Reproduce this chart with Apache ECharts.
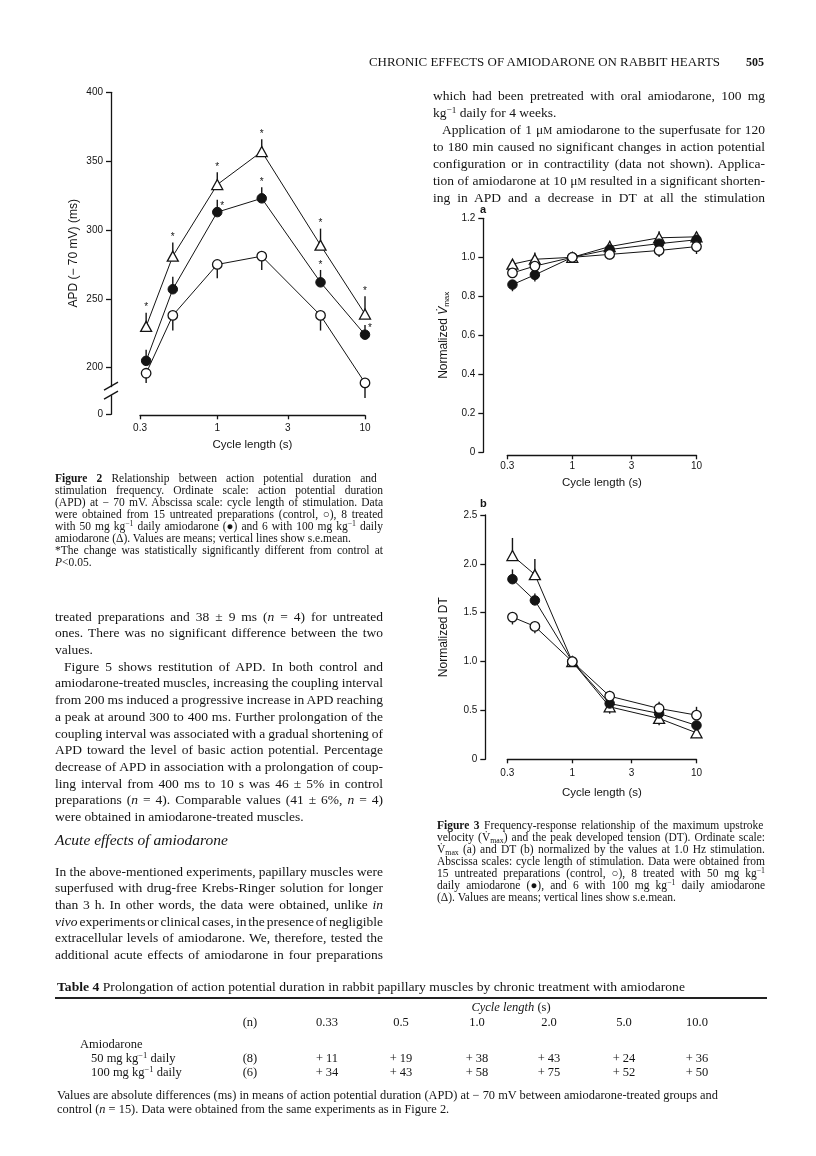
<!DOCTYPE html>
<html><head><meta charset="utf-8">
<script src="https://cdn.jsdelivr.net/npm/echarts@6/dist/echarts.min.js"></script>
<style>
html,body{margin:0;padding:0;background:#fff;}
#page{position:relative;width:816px;height:1156px;overflow:hidden;background:#fff;font-family:'Liberation Serif','Times New Roman',serif;color:#141414;}
#chart{position:absolute;left:0;top:0;width:816px;height:1156px;}
.ln{position:absolute;white-space:nowrap;}
.sup{font-size:0.68em;vertical-align:0.45em;line-height:0;}
.sub{font-size:0.68em;vertical-align:-0.25em;line-height:0;}
.sc{font-size:0.75em;}
</style></head>
<body><div id="page"><div id="chart"></div></div>
<script>
// ---------- data ----------
const cycleLengths = [0.33, 0.5, 1, 2, 5, 10];
const xTickValues = [0.3, 1, 3, 10];

// Figure 2: APD (ms)
const apdControl = [196, 238, 275, 281, 238, 189];
const apd50 = [205, 257, 313, 323, 262, 224];
const apd100 = [230, 281, 333, 357, 289, 239];
const apdErrUpControl = [0, 0, 0, 0, 0, 0];
const apdErrDownControl = [7, 11, 10, 10, 11, 11];
const apdErrUp50 = [8, 9, 9, 8, 9, 7];
const apdErrDown50 = [0, 0, 0, 0, 0, 0];
const apdErrUp100 = [10, 10, 9, 9, 12, 13];
const apdErrDown100 = [0, 0, 0, 0, 0, 0];
const apdSig50 = [0, 0, 1, 1, 1, 1];
const apdSig100 = [1, 1, 1, 1, 1, 1];
const apdTickValues = [200, 250, 300, 350, 400];

// Figure 3a: normalized Vmax
const vmaxControl = [0.92, 0.955, 1.0, 1.015, 1.035, 1.055];
const vmax50 = [0.86, 0.91, 1.0, 1.04, 1.07, 1.09];
const vmax100 = [0.965, 0.99, 1.0, 1.055, 1.10, 1.105];
const vmaxErrUpControl = [0, 0, 0, 0, 0, 0];
const vmaxErrDownControl = [0.02, 0.02, 0, 0.026, 0.034, 0.038];
const vmaxErrUp50 = [0, 0, 0, 0, 0, 0];
const vmaxErrDown50 = [0.034, 0.034, 0, 0.02, 0.02, 0.02];
const vmaxErrUp100 = [0.02, 0.034, 0, 0.03, 0.034, 0.025];
const vmaxErrDown100 = [0, 0, 0, 0, 0, 0];

// Figure 3b: normalized DT
const dtControl = [1.455, 1.36, 1.0, 0.646, 0.52, 0.452];
const dt50 = [1.843, 1.626, 1.0, 0.571, 0.469, 0.347];
const dt100 = [2.085, 1.89, 1.0, 0.537, 0.418, 0.271];
const dtErrUpControl = [0, 0, 0, 0.055, 0.07, 0.085];
const dtErrDownControl = [0.075, 0.07, 0, 0, 0, 0];
const dtErrUp50 = [0.10, 0.07, 0, 0, 0, 0];
const dtErrDown50 = [0, 0, 0, 0.04, 0.04, 0.04];
const dtErrUp100 = [0.18, 0.16, 0, 0, 0, 0];
const dtErrDown100 = [0, 0, 0, 0.07, 0.07, 0.05];

// Table 4
const tableCycle = ['0.33', '0.5', '1.0', '2.0', '5.0', '10.0'];
const tableRowLabels = ['50 mg kg<span class="sup">−1</span> daily', '100 mg kg<span class="sup">−1</span> daily'];
const tableN = ['(8)', '(6)'];
const tableDiff50 = [11, 19, 38, 43, 24, 36];
const tableDiff100 = [34, 43, 58, 75, 52, 50];

// ---------- chart ----------
const INK = '#141414';
const SANS = "'Liberation Sans', Arial, sans-serif";
const chart = echarts.init(document.getElementById('chart'), null, {renderer: 'canvas'});
const apdAxisBottom = 166.2;

function xAxisCfg(grid, offset, margin, nameGap) {
  return {
    gridIndex: grid, type: 'log', logBase: 10, min: 0.2999, max: 10.0001, offset: offset,
    axisLine: {onZero: false, lineStyle: {color: INK, width: 1.3}},
    axisTick: {customValues: xTickValues, length: 4, lineStyle: {color: INK, width: 1.3}},
    axisLabel: {customValues: xTickValues, margin: margin, fontSize: 10, fontFamily: SANS, color: INK,
      formatter: v => (Math.abs(v - 0.3) < 0.01 ? '0.3' : String(Math.round(v)))},
    splitLine: {show: false},
    name: 'Cycle length (s)', nameLocation: 'middle', nameGap: nameGap,
    nameTextStyle: {fontSize: 11.5, fontFamily: SANS, color: INK}
  };
}
function yAxisBase(grid, offset) {
  return {
    gridIndex: grid, type: 'value', offset: offset,
    axisLine: {show: true, lineStyle: {color: INK, width: 1.3}},
    axisTick: {show: true, length: 5, lineStyle: {color: INK, width: 1.3}},
    splitLine: {show: false},
    nameLocation: 'middle', nameRotate: 90,
  };
}

function lineSeries(grid, values, kind, z) {
  const st = {
    open: {symbol: 'circle', symbolSize: 9.5, itemStyle: {color: '#fff', borderColor: INK, borderWidth: 1.3}},
    filled: {symbol: 'circle', symbolSize: 9.5, itemStyle: {color: INK, borderColor: INK, borderWidth: 1}},
    tri: {symbol: 'triangle', symbolSize: [11, 10], itemStyle: {color: '#fff', borderColor: INK, borderWidth: 1.3}}
  }[kind];
  return Object.assign({
    type: 'line', xAxisIndex: grid, yAxisIndex: grid, z: z,
    data: cycleLengths.map((c, i) => [c, values[i]]),
    showAllSymbol: true, animation: false,
    lineStyle: {color: INK, width: 1}, emphasis: {disabled: true}
  }, st);
}

function errSeries(grid, values, up, down, sig, avoid) {
  return {
    type: 'custom', xAxisIndex: grid, yAxisIndex: grid, z: 1, animation: false, silent: true,
    data: cycleLengths.map((c, i) => [c, values[i], up[i], down[i], sig ? sig[i] : 0]),
    renderItem: function (params, api) {
      const x = api.value(0), y = api.value(1), u = api.value(2), d = api.value(3), s = api.value(4);
      const p = api.coord([x, y]);
      const pt = api.coord([x, y + u]);
      const pb = api.coord([x, y - d]);
      const ch = [];
      if (u > 0 || d > 0) ch.push({type: 'line', shape: {x1: p[0], y1: pt[1], x2: p[0], y2: pb[1]}, style: {stroke: INK, lineWidth: 1.4}});
      if (s) {
        let ax = p[0], ay = pt[1] - 5;
        if (avoid) {
          const q = api.coord([x, avoid[params.dataIndex]]);
          if (Math.abs(q[1] - ay) < 12) { ax = p[0] + 5; ay = p[1] - 6; }
        }
        ch.push({type: 'text', style: {text: '*', x: ax, y: ay, fontSize: 10, fontFamily: SANS, fill: INK, align: 'center', verticalAlign: 'middle'}});
      }
      return {type: 'group', children: ch};
    }
  };
}

const option = {
  animation: false,
  backgroundColor: '#fff',
  grid: [
    {left: 140, right: 451, top: 92.3, bottom: 741.7},
    {left: 507.3, right: 119.5, top: 218.3, bottom: 703.7},
    {left: 507.3, right: 119.5, top: 515, bottom: 396.7}
  ],
  xAxis: [xAxisCfg(0, 1, 8, 24), xAxisCfg(1, 3, 6, 22), xAxisCfg(2, 0, 9, 28)],
  yAxis: [
    Object.assign(yAxisBase(0, 29), {
      min: apdAxisBottom, max: 400,
      axisTick: {show: true, length: 5, lineStyle: {color: INK, width: 1.3}, customValues: [apdAxisBottom].concat(apdTickValues)},
      axisLabel: {customValues: [apdAxisBottom].concat(apdTickValues), margin: 8, fontSize: 10, fontFamily: SANS, color: INK,
        formatter: v => (v < 199 ? '0' : String(Math.round(v)))},
      name: 'APD (− 70 mV) (ms)', nameGap: 31,
      nameTextStyle: {fontSize: 12, fontFamily: SANS, color: INK}
    }),
    Object.assign(yAxisBase(1, 24), {
      min: 0, max: 1.2, interval: 0.2,
      axisLabel: {margin: 8, fontSize: 10, fontFamily: SANS, color: INK, formatter: v => (v === 0 ? '0' : v.toFixed(1))},
      name: '{a|Normalized }{v|V̇}{s|max}', nameGap: 33,
      nameTextStyle: {color: INK, rich: {
        a: {fontSize: 12, fontFamily: SANS, color: INK},
        v: {fontSize: 12, fontFamily: SANS, fontStyle: 'italic', color: INK},
        s: {fontSize: 8, fontFamily: SANS, color: INK, verticalAlign: 'bottom', padding: [5, 0, 0, 0]}
      }}
    }),
    Object.assign(yAxisBase(2, 22), {
      min: 0, max: 2.5, interval: 0.5,
      axisLabel: {margin: 8, fontSize: 10, fontFamily: SANS, color: INK, formatter: v => (v === 0 ? '0' : v.toFixed(1))},
      name: 'Normalized DT', nameGap: 36,
      nameTextStyle: {fontSize: 12, fontFamily: SANS, color: INK}
    })
  ],
  series: [
    errSeries(0, apdControl, apdErrUpControl, apdErrDownControl, null, null),
    errSeries(0, apd50, apdErrUp50, apdErrDown50, apdSig50, apd100),
    errSeries(0, apd100, apdErrUp100, apdErrDown100, apdSig100, null),
    lineSeries(0, apdControl, 'open', 3),
    lineSeries(0, apd50, 'filled', 3),
    lineSeries(0, apd100, 'tri', 3),

    errSeries(1, vmaxControl, vmaxErrUpControl, vmaxErrDownControl, null, null),
    errSeries(1, vmax50, vmaxErrUp50, vmaxErrDown50, null, null),
    errSeries(1, vmax100, vmaxErrUp100, vmaxErrDown100, null, null),
    lineSeries(1, vmax100, 'tri', 3),
    lineSeries(1, vmax50, 'filled', 4),
    lineSeries(1, vmaxControl, 'open', 5),

    errSeries(2, dtControl, dtErrUpControl, dtErrDownControl, null, null),
    errSeries(2, dt50, dtErrUp50, dtErrDown50, null, null),
    errSeries(2, dt100, dtErrUp100, dtErrDown100, null, null),
    lineSeries(2, dt100, 'tri', 3),
    lineSeries(2, dt50, 'filled', 4),
    lineSeries(2, dtControl, 'open', 5)
  ]
};
chart.setOption(option);

// axis break on Figure 2 ordinate
(function () {
  const pY = chart.convertToPixel({yAxisIndex: 0}, 183);
  const pX = chart.convertToPixel({xAxisIndex: 0}, 0.3) - 29;
  chart.setOption({graphic: [
    {type: 'rect', shape: {x: pX - 4, y: pY - 4, width: 8, height: 8}, style: {fill: '#fff'}, z: 100},
    {type: 'line', shape: {x1: pX - 7, y1: pY - 1, x2: pX + 7, y2: pY - 9}, style: {stroke: INK, lineWidth: 1.3}, z: 101},
    {type: 'line', shape: {x1: pX - 7, y1: pY + 8, x2: pX + 7, y2: pY}, style: {stroke: INK, lineWidth: 1.3}, z: 101}
  ]});
})();

// ---------- text ----------
const page = document.getElementById('page');
function fit(el, target, mode) {
  const w = el.getBoundingClientRect().width;
  if (mode === 'ws') {
    const n = (el.textContent.match(/[ \u00a0]/g) || []).length;
    if (n > 0) el.style.wordSpacing = ((target - w) / n) + 'px';
  } else {
    el.style.transformOrigin = '0 0';
    el.style.transform = 'scaleX(' + (target / w) + ')';
  }
}
function put(html, x, yc, size, lh, extra) {
  const d = document.createElement('span');
  d.className = 'ln';
  d.innerHTML = html;
  d.style.left = x + 'px';
  d.style.top = (yc - lh / 2) + 'px';
  d.style.fontSize = size + 'px';
  d.style.lineHeight = lh + 'px';
  if (extra) d.style.cssText += extra;
  page.appendChild(d);
  return d;
}
function block(x, y0, lh, size, w, lines, extra) {
  lines.forEach((ln, i) => {
    const ind = ln[2] || 0;
    const d = put(ln[0], x + ind, y0 + i * lh, size, lh, extra);
    if (ln[1]) fit(d, w - ind, 'ws');
  });
}
function centerAt(html, cx, yc, size, extra) {
  const d = put(html, 0, yc, size, size + 2, extra);
  const w = d.getBoundingClientRect().width;
  d.style.left = (cx - w / 2) + 'px';
  return d;
}

// running head
const hd = put('CHRONIC EFFECTS OF AMIODARONE ON RABBIT HEARTS', 369, 62, 12, 14);
fit(hd, 351, 'sx');
put('<b>505</b>', 746, 62, 12, 14);

// right column top text
block(433, 95, 17, 13.5, 332, [
  ['which had been pretreated with oral amiodarone, 100 mg', 1],
  ['kg<span class="sup">−1</span> daily for 4 weeks.', 0],
  ['Application of 1 μ<span class="sc">M</span> amiodarone to the superfusate for 120', 1, 9],
  ['to 180 min caused no significant changes in action potential', 1],
  ['configuration or in contractility (data not shown). Applica-', 1],
  ['tion of amiodarone at 10 μ<span class="sc">M</span> resulted in a significant shorten-', 1],
  ['ing in APD and a decrease in DT at all the stimulation', 1]
]);

// Figure 2 caption
block(55, 477.5, 12, 11.5, 328, [
  ['<b>Figure 2</b>  Relationship between action potential duration and', 1],
  ['stimulation frequency. Ordinate scale: action potential duration', 1],
  ['(APD) at − 70 mV. Abscissa scale: cycle length of stimulation. Data', 1],
  ['were obtained from 15 untreated preparations (control, ○), 8 treated', 1],
  ['with 50 mg kg<span class="sup">−1</span> daily amiodarone (●) and 6 with 100 mg kg<span class="sup">−1</span> daily', 1],
  ['amiodarone (Δ). Values are means; vertical lines show s.e.mean.', 0],
  ['*The change was statistically significantly different from control at', 1],
  ['<i>P</i>&lt;0.05.', 0]
]);

// left body text
block(55, 617, 16.7, 13.5, 328, [
  ['treated preparations and 38 ± 9 ms (<i>n</i> = 4) for untreated', 1],
  ['ones. There was no significant difference between the two', 1],
  ['values.', 0],
  ['Figure 5 shows restitution of APD. In both control and', 1, 9],
  ['amiodarone-treated muscles, increasing the coupling interval', 1],
  ['from 200 ms induced a progressive increase in APD reaching', 1],
  ['a peak at around 300 to 400 ms. Further prolongation of the', 1],
  ['coupling interval was associated with a gradual shortening of', 1],
  ['APD toward the level of basic action potential. Percentage', 1],
  ['decrease of APD in association with a prolongation of coup-', 1],
  ['ling interval from 400 ms to 10 s was 46 ± 5% in control', 1],
  ['preparations (<i>n</i> = 4). Comparable values (41 ± 6%, <i>n</i> = 4)', 1],
  ['were obtained in amiodarone-treated muscles.', 0]
]);

put('<i>Acute effects of amiodarone</i>', 55, 840, 15.5, 18);

block(55, 872, 16.7, 13.5, 328, [
  ['In the above-mentioned experiments, papillary muscles were', 1],
  ['superfused with drug-free Krebs-Ringer solution for longer', 1],
  ['than 3 h. In other words, the data were obtained, unlike <i>in</i>', 1],
  ['<i>vivo</i> experiments or clinical cases, in the presence of negligible', 1],
  ['extracellular levels of amiodarone. We, therefore, tested the', 1],
  ['additional acute effects of amiodarone in four preparations', 1]
]);

// Figure 3 caption
block(437, 825, 12, 11.5, 328, [
  ['<b>Figure 3</b>  Frequency-response relationship of the maximum upstroke', 1],
  ['velocity (V̇<span class="sub">max</span>) and the peak developed tension (DT). Ordinate scale:', 1],
  ['V̇<span class="sub">max</span> (a) and DT (b) normalized by the values at 1.0 Hz stimulation.', 1],
  ['Abscissa scales: cycle length of stimulation. Data were obtained from', 1],
  ['15 untreated preparations (control, ○), 8 treated with 50 mg kg<span class="sup">−1</span>', 1],
  ['daily amiodarone (●), and 6 with 100 mg kg<span class="sup">−1</span> daily amiodarone', 1],
  ['(Δ). Values are means; vertical lines show s.e.mean.', 0]
]);

// panel letters
put('<b>a</b>', 480, 209, 11, 12, "font-family:'Liberation Sans',sans-serif;");
put('<b>b</b>', 480, 503, 11, 12, "font-family:'Liberation Sans',sans-serif;");

// Table 4
const T0 = 987;
const tt = put('<b>Table 4</b>  Prolongation of action potential duration in rabbit papillary muscles by chronic treatment with amiodarone', 57, T0, 12.5, 14);
fit(tt, 628, 'sx');
const rule = document.createElement('div');
rule.style.cssText = 'position:absolute;left:55px;top:' + (T0 + 10) + 'px;width:712px;height:1.6px;background:#222;';
page.appendChild(rule);
centerAt('<i>Cycle length</i> (s)', 511, T0 + 20, 12.5);
const colX = [327, 401, 477, 549, 624, 697];
centerAt('(n)', 250, T0 + 35, 12.5);
tableCycle.forEach((c, i) => centerAt(c, colX[i], T0 + 35, 12.5));
put('Amiodarone', 80, T0 + 57, 12.5, 14);
[tableDiff50, tableDiff100].forEach((row, r) => {
  const yc = T0 + 71 + r * 14;
  put(tableRowLabels[r], 91, yc, 12.5, 14);
  centerAt(tableN[r], 250, yc, 12.5);
  row.forEach((v, i) => centerAt('+ ' + v, colX[i], yc, 12.5));
});
const f1 = put('Values are absolute differences (ms) in means of action potential duration (APD) at − 70 mV between amiodarone-treated groups and', 57, T0 + 108, 12, 14);
const f1w = f1.getBoundingClientRect().width;
fit(f1, 661, 'sx');
const f2 = put('control (<i>n</i> = 15). Data were obtained from the same experiments as in Figure 2.', 57, T0 + 122, 12, 14);
f2.style.transformOrigin = '0 0';
f2.style.transform = 'scaleX(' + (661 / f1w) + ')';
</script>
</body></html>
